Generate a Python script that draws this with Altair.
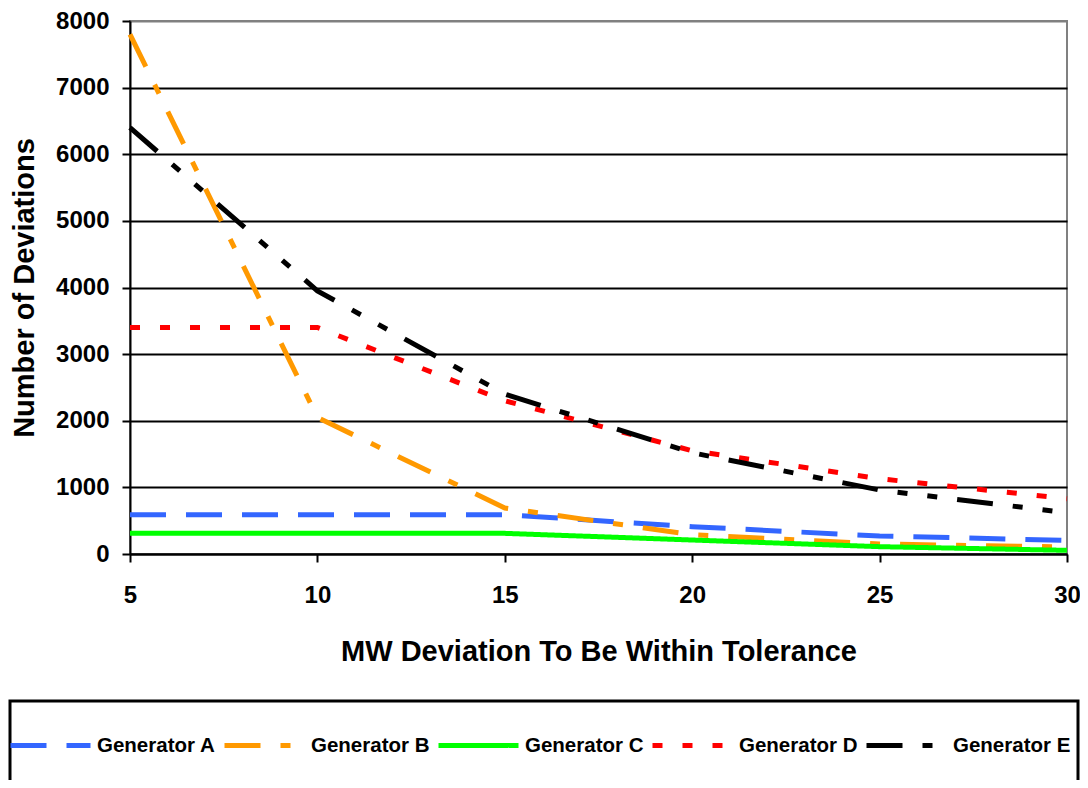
import altair as alt
import pandas as pd

# Data
mw = [5, 10, 15, 20, 25, 30]
gen_a = [590, 590, 590, 410, 270, 205]
gen_b = [7800, 2050, 690, 290, 150, 105]
gen_c = [310, 310, 310, 210, 110, 55]
gen_d = [3400, 3400, 2300, 1550, 1130, 830]
gen_e = [6400, 3950, 2400, 1520, 960, 620]

series_names = ["Generator A", "Generator B", "Generator C", "Generator D", "Generator E"]
series_values = [gen_a, gen_b, gen_c, gen_d, gen_e]
series_colors = ["#3366FF", "#FF9900", "#00FF00", "#FF0000", "#000000"]
series_dashes = [[36, 20], [36, 20, 10, 20], [1, 0], [10, 20], [36, 20, 10, 20, 10, 20]]

y_ticks = [0, 1000, 2000, 3000, 4000, 5000, 6000, 7000, 8000]
x_ticks = [5, 10, 15, 20, 25, 30]

rows = []
for name, vals in zip(series_names, series_values):
    for x, v in zip(mw, vals):
        rows.append({"mw": x, "count": v, "series": name})
df = pd.DataFrame(rows)

FONT = "Liberation Sans"

lines = alt.Chart(df).mark_line(strokeWidth=5, strokeCap="butt", strokeJoin="miter").encode(
    x=alt.X("mw:Q", scale=alt.Scale(domain=[5, 30], nice=False, zero=False),
            axis=alt.Axis(values=x_ticks, title="MW Deviation To Be Within Tolerance",
                          grid=False, labelPadding=21, titlePadding=30, tickSize=8)),
    y=alt.Y("count:Q", scale=alt.Scale(domain=[0, 8000], nice=False),
            axis=alt.Axis(values=y_ticks, format="d", title="Number of Deviations",
                          grid=True, labelPadding=13, titlePadding=16, tickSize=8,
                          gridColor={"condition": {"test": "datum.value === 8000", "value": "#808080"},
                                     "value": "black"})),
    color=alt.Color("series:N", scale=alt.Scale(domain=series_names, range=series_colors),
                    legend=alt.Legend(title=None)),
    strokeDash=alt.StrokeDash("series:N", scale=alt.Scale(domain=series_names, range=series_dashes),
                              legend=alt.Legend(title=None)),
)

frame = alt.Chart(pd.DataFrame({"k": [0]})).mark_rect(
    filled=False, stroke="black", strokeWidth=3
).encode(
    x=alt.value(-120), x2=alt.value(948), y=alt.value(680), y2=alt.value(797)
)

chart = alt.layer(frame, lines).properties(
    width=937, height=533,
    autosize=alt.AutoSizeParams(type="none"),
    padding={"left": 122, "top": 13, "right": 13, "bottom": 226},
).configure_view(
    stroke="#808080", strokeWidth=2
).configure_axis(
    labelFont=FONT, labelFontSize=24, labelFontWeight="bold", labelColor="black",
    titleFont=FONT, titleFontSize=29, titleFontWeight="bold", titleColor="black",
    domainColor="black", domainWidth=2, tickColor="black", tickWidth=2,
    gridWidth=2, gridOpacity=1, labelFlush=False,
).configure_legend(
    orient="none", legendX=-122, legendY=682, direction="horizontal", columns=5,
    gridAlign="all", columnPadding=-2, symbolSize=6400, symbolStrokeWidth=5,
    symbolType="stroke", labelFont=FONT, labelFontSize=20.5, labelFontWeight="bold",
    labelColor="black", labelOffset=4, labelLimit=200, padding=0,
)

chart.save("out.html", embed_options={"renderer": "svg", "actions": False})
